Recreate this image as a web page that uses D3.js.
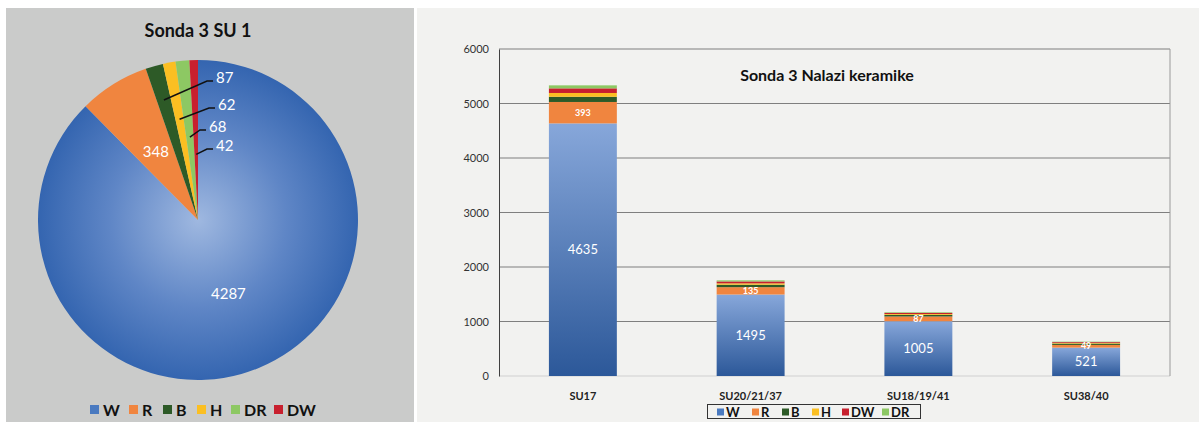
<!DOCTYPE html>
<html>
<head>
<meta charset="utf-8">
<script src="https://cdn.jsdelivr.net/npm/d3@7"></script>
<style>
  body { margin: 0; background: #ffffff; }
  svg { display: block; font-family: Lato, "Open Sans", sans-serif; }
</style>
</head>
<body>
<svg id="chart" width="1199" height="422"></svg>
<script>
// --- donnees du camembert (Sonda 3 SU 1)
const pieCats = ["W", "R", "B", "H", "DR", "DW"];
const pieValues = [4287, 348, 87, 62, 68, 42];

// --- donnees des barres (Sonda 3 Nalazi keramike)
const barCats = ["SU17", "SU20/21/37", "SU18/19/41", "SU38/40"];
const stackKeys = ["W", "R", "B", "H", "DW", "DR"];
const valW = [4635, 1495, 1005, 521];
const valR = [393, 135, 87, 49];
const valB = [95, 45, 30, 25];
const valH = [70, 25, 15, 12];
const valDW = [85, 35, 20, 15];
const valDR = [55, 20, 12, 8];
const yTicks = [0, 1000, 2000, 3000, 4000, 5000, 6000];

const couleurs = { W: "#3a6cb5", R: "#f0853f", B: "#2d5a27", H: "#fbbf22", DR: "#8dc863", DW: "#c8202e" };

const svg = d3.select("#chart");
const defs = svg.append("defs");

// gradient radial pour la grande part (coordonnees du groupe du camembert)
const rg = defs.append("radialGradient").attr("id", "pieW")
  .attr("gradientUnits", "userSpaceOnUse").attr("cx", 0).attr("cy", 0).attr("r", 160);
rg.append("stop").attr("offset", "0%").attr("stop-color", "#9fb8e0");
rg.append("stop").attr("offset", "55%").attr("stop-color", "#5f86c6");
rg.append("stop").attr("offset", "100%").attr("stop-color", "#3465b0");

// gradient vertical pour les barres W
const lg = defs.append("linearGradient").attr("id", "barW").attr("x1", 0).attr("y1", 0).attr("x2", 0).attr("y2", 1);
lg.append("stop").attr("offset", "0%").attr("stop-color", "#87a7da");
lg.append("stop").attr("offset", "100%").attr("stop-color", "#2c5899");

// ================= panneau gauche =================
svg.append("rect").attr("x", 6).attr("y", 8).attr("width", 408).attr("height", 414).attr("fill", "#cacbca");

svg.append("text").attr("x", 198).attr("y", 37).attr("text-anchor", "middle")
  .attr("font-size", "18px").attr("font-weight", "bold").attr("fill", "#111").text("Sonda 3 SU 1");

const cx = 198, cy = 220, rayon = 160;
const pie = d3.pie().sort(null).value(d => d.v);
const arcs = pie(pieCats.map((c, i) => ({ c: c, v: pieValues[i] })));
const arc = d3.arc().innerRadius(0).outerRadius(rayon);

const gPie = svg.append("g").attr("transform", `translate(${cx},${cy})`);
gPie.selectAll("path")
  .data(arcs)
  .join("path")
  .attr("d", arc)
  .attr("fill", d => d.data.c === "W" ? "url(#pieW)" : couleurs[d.data.c]);

// etiquettes internes (W et R)
const arcLabel = d3.arc().innerRadius(rayon * 0.5).outerRadius(rayon * 0.5);
gPie.selectAll(".lblIn")
  .data(arcs.filter(d => d.data.c === "W" || d.data.c === "R"))
  .join("text")
  .attr("class", "lblIn")
  .attr("transform", d => `translate(${arcLabel.centroid(d)})`)
  .attr("text-anchor", "middle").attr("dy", "0.35em")
  .attr("font-size", "15px").attr("fill", "#fff")
  .text(d => d.data.v);

// etiquettes avec traits pour les petites parts
const petites = arcs.filter(d => ["B", "H", "DR", "DW"].includes(d.data.c));
const rDepart = [0.78, 0.64, 0.52, 0.41];   // rayon relatif du depart du trait
const finTrait = [[15, -139], [17, -112], [8, -90], [15, -71]]; // fin du trait relative au centre
petites.forEach((d, i) => {
  const a = (d.startAngle + d.endAngle) / 2;
  const r = rayon * rDepart[i];
  const x0 = Math.sin(a) * r, y0 = -Math.cos(a) * r;
  const [x2, y2] = finTrait[i];
  gPie.append("polyline")
    .attr("points", `${x0},${y0} ${x2 - 6},${y2} ${x2},${y2}`)
    .attr("fill", "none").attr("stroke", "#111").attr("stroke-width", 1.5);
  gPie.append("text")
    .attr("x", x2 + 3).attr("y", y2 + 2)
    .attr("font-size", "15px").attr("fill", "#fff")
    .text(d.data.v);
});

// legende gauche
const legG = svg.append("g").attr("transform", "translate(90,410)");
const legGx = [0, 39, 73, 107, 141, 184];
pieCats.forEach((c, i) => {
  legG.append("rect").attr("x", legGx[i]).attr("y", -5).attr("width", 9).attr("height", 9)
    .attr("fill", c === "W" ? "#4a7ac0" : couleurs[c]);
  legG.append("text").attr("x", legGx[i] + 13).attr("y", 5.5)
    .attr("font-size", "16px").attr("font-weight", "bold").attr("fill", "#111").text(c);
});

// ================= panneau droit =================
svg.append("rect").attr("x", 417).attr("y", 8).attr("width", 782).attr("height", 414).attr("fill", "#f2f2f0");

const plot = { left: 499, right: 1170, top: 49, bottom: 376 };
const x = d3.scaleBand().domain(barCats).range([plot.left, plot.right]).paddingInner(0.595).paddingOuter(0.2975);
const y = d3.scaleLinear().domain([0, 6000]).range([plot.bottom, plot.top]);

// lignes de grille
svg.append("g").selectAll("line")
  .data(yTicks.filter(t => t > 0))
  .join("line")
  .attr("x1", plot.left).attr("x2", plot.right)
  .attr("y1", d => y(d)).attr("y2", d => y(d))
  .attr("stroke", "#7f7f7f").attr("stroke-width", 1);
svg.append("line").attr("x1", plot.left).attr("x2", plot.right).attr("y1", y(0)).attr("y2", y(0))
  .attr("stroke", "#d0d0d0");
svg.append("line").attr("x1", plot.right).attr("x2", plot.right).attr("y1", y(6000)).attr("y2", y(0))
  .attr("stroke", "#9a9a9a");

// axe y
const axeY = svg.append("g").attr("transform", `translate(${plot.left},0)`)
  .call(d3.axisLeft(y).tickValues(yTicks).tickFormat(d3.format("d")).tickSize(0).tickPadding(10));
axeY.select(".domain").attr("stroke", "#404040");
axeY.selectAll("text").attr("font-size", "11px").attr("fill", "#333").attr("font-family", "Lato, sans-serif");

// axe x
const axeX = svg.append("g").attr("transform", `translate(0,${plot.bottom})`)
  .call(d3.axisBottom(x).tickSize(0).tickPadding(16));
axeX.select(".domain").remove();
axeX.selectAll("text").attr("font-size", "11px").attr("font-weight", "bold").attr("fill", "#222").attr("font-family", "Lato, sans-serif");

// barres empilees
const tableau = barCats.map((c, i) => ({
  cat: c, W: valW[i], R: valR[i], B: valB[i], H: valH[i], DW: valDW[i], DR: valDR[i]
}));
const series = d3.stack().keys(stackKeys)(tableau);

svg.append("g").selectAll("g")
  .data(series)
  .join("g")
  .attr("fill", d => d.key === "W" ? "url(#barW)" : couleurs[d.key])
  .selectAll("rect")
  .data(d => d)
  .join("rect")
  .attr("x", d => x(d.data.cat))
  .attr("width", x.bandwidth())
  .attr("y", d => y(d[1]))
  .attr("height", d => y(d[0]) - y(d[1]));

// valeurs W
svg.append("g").selectAll("text")
  .data(series[0])
  .join("text")
  .attr("x", d => x(d.data.cat) + x.bandwidth() / 2)
  .attr("y", d => y((d[0] + d[1]) / 2))
  .attr("dy", "0.35em").attr("text-anchor", "middle")
  .attr("font-size", "13px").attr("fill", "#fff")
  .text(d => d.data.W);

// valeurs R
svg.append("g").selectAll("text")
  .data(series[1])
  .join("text")
  .attr("x", d => x(d.data.cat) + x.bandwidth() / 2)
  .attr("y", d => y((d[0] + d[1]) / 2))
  .attr("dy", "0.35em").attr("text-anchor", "middle")
  .attr("font-size", "9px").attr("font-weight", "bold").attr("fill", "#fff")
  .text(d => d.data.R);

// titre
svg.append("text").attr("x", 827).attr("y", 81).attr("text-anchor", "middle")
  .attr("font-size", "16px").attr("font-weight", "bold").attr("fill", "#111").text("Sonda 3 Nalazi keramike");

// legende droite
svg.append("rect").attr("x", 707.5).attr("y", 404.5).attr("width", 213).attr("height", 14)
  .attr("fill", "none").attr("stroke", "#333").attr("stroke-width", 1);
const legD = svg.append("g").attr("transform", "translate(717,412)");
const legDx = [0, 35, 65, 95, 125, 165];
stackKeys.forEach((c, i) => {
  legD.append("rect").attr("x", legDx[i]).attr("y", -3.5).attr("width", 7).attr("height", 7)
    .attr("fill", c === "W" ? "#4a7ac0" : couleurs[c]);
  legD.append("text").attr("x", legDx[i] + 9).attr("y", 5)
    .attr("font-size", "13px").attr("font-weight", "bold").attr("fill", "#111").text(c);
});
</script>
</body>
</html>
